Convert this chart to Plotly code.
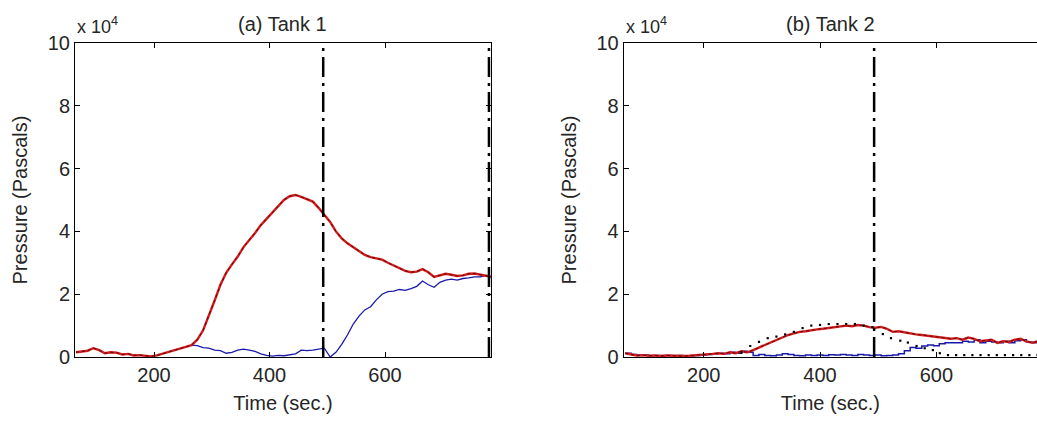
import plotly.graph_objects as go

# ---------------- data (pressure in units of 1e4 Pa) ----------------
time_s = [65, 75, 85, 95, 105, 115, 125, 135, 145, 155, 165, 175, 185, 195, 205, 215, 225, 235,
          245, 255, 265, 275, 285, 295, 305, 315, 325, 335, 345, 355, 365, 375, 385, 395, 405,
          415, 425, 435, 445, 455, 465, 475, 485, 495, 505, 515, 525, 535, 545, 555, 565, 575,
          585, 595, 605, 615, 625, 635, 645, 655, 665, 675, 685, 695, 705, 715, 725, 735, 745,
          755, 765, 775, 785]

tank1_red = [0.15, 0.18, 0.20, 0.28, 0.22, 0.12, 0.15, 0.14, 0.08, 0.10, 0.05, 0.06, 0.03, 0.02,
             0.05, 0.10, 0.15, 0.20, 0.26, 0.32, 0.38, 0.55, 0.85, 1.30, 1.80, 2.30, 2.68, 2.95,
             3.20, 3.50, 3.72, 3.95, 4.20, 4.40, 4.60, 4.80, 5.00, 5.12, 5.16, 5.10, 5.02, 4.95,
             4.75, 4.52, 4.30, 4.00, 3.78, 3.62, 3.50, 3.38, 3.25, 3.18, 3.15, 3.10, 3.00, 2.92,
             2.83, 2.74, 2.70, 2.72, 2.80, 2.70, 2.55, 2.60, 2.65, 2.62, 2.58, 2.60, 2.65, 2.66,
             2.62, 2.60, 2.55]

tank1_blue = [0.15, 0.18, 0.20, 0.28, 0.22, 0.12, 0.15, 0.14, 0.08, 0.10, 0.05, 0.06, 0.03, 0.02,
              0.05, 0.10, 0.15, 0.20, 0.26, 0.32, 0.38, 0.36, 0.30, 0.28, 0.22, 0.20, 0.12, 0.15,
              0.22, 0.25, 0.22, 0.18, 0.10, 0.05, 0.03, 0.05, 0.04, 0.06, 0.10, 0.22, 0.20, 0.22,
              0.25, 0.28, 0.00, 0.15, 0.40, 0.70, 1.05, 1.30, 1.50, 1.60, 1.82, 2.00, 2.08, 2.10,
              2.15, 2.12, 2.18, 2.25, 2.42, 2.30, 2.22, 2.38, 2.45, 2.48, 2.45, 2.50, 2.52, 2.55,
              2.55, 2.60, 2.55]

tank2_red = [0.12, 0.08, 0.05, 0.06, 0.04, 0.05, 0.03, 0.05, 0.04, 0.05, 0.03, 0.04, 0.05, 0.06,
             0.08, 0.10, 0.12, 0.10, 0.15, 0.12, 0.18, 0.15, 0.22, 0.30, 0.38, 0.45, 0.55, 0.62,
             0.70, 0.75, 0.80, 0.82, 0.86, 0.88, 0.90, 0.93, 0.95, 0.97, 1.00, 0.98, 1.02, 1.00,
             0.95, 0.93, 0.96, 0.90, 0.80, 0.82, 0.78, 0.75, 0.72, 0.70, 0.68, 0.65, 0.62, 0.60,
             0.58, 0.60, 0.55, 0.62, 0.58, 0.50, 0.52, 0.55, 0.45, 0.50, 0.48, 0.55, 0.58, 0.50,
             0.45, 0.50, 0.48]

tank2_blue = [0.12, 0.08, 0.05, 0.06, 0.04, 0.05, 0.03, 0.05, 0.04, 0.05, 0.03, 0.04, 0.05, 0.06,
              0.08, 0.10, 0.12, 0.10, 0.15, 0.12, 0.18, 0.15, 0.05, 0.08, 0.05, 0.04, 0.06, 0.10,
              0.08, 0.05, 0.04, 0.06, 0.05, 0.06, 0.05, 0.07, 0.06, 0.08, 0.06, 0.05, 0.08, 0.06,
              0.05, 0.06, 0.04, 0.05, 0.06, 0.10, 0.20, 0.30, 0.28, 0.35, 0.38, 0.36, 0.42, 0.45,
              0.45, 0.45, 0.50, 0.48, 0.55, 0.45, 0.50, 0.48, 0.45, 0.50, 0.45, 0.52, 0.55, 0.48,
              0.45, 0.48, 0.45]

tank2_dots_t = [265, 280, 295, 310, 325, 340, 355, 370, 385, 400, 415, 430, 445, 460, 475, 490,
                508, 522, 538, 551, 566, 580, 594, 606, 620, 634, 648, 662, 676, 690, 704, 718,
                732, 746, 760, 774]
tank2_dots = [0.15, 0.35, 0.48, 0.60, 0.65, 0.72, 0.80, 0.92, 1.00, 1.02, 1.05, 1.05, 1.05, 1.05,
              1.00, 0.95, 0.73, 0.60, 0.52, 0.46, 0.35, 0.28, 0.22, 0.12, 0.06, 0.06, 0.06, 0.06,
              0.06, 0.06, 0.06, 0.06, 0.06, 0.06, 0.06, 0.06]

event_times = [493, 780]
y_ticks = [0, 2, 4, 6, 8, 10]
x_ticks = [200, 400, 600]
panel_titles = ["(a) Tank 1", "(b) Tank 2"]

SCALE = 1e4
def pa(vals):
    return [v * SCALE for v in vals]

FONT = "Liberation Sans, Arial, sans-serif"
TXT = "#262626"
RED = "#d41c1c"
BLUE = "#1a1aa8"

fig = go.Figure()

# Panel (a)
fig.add_trace(go.Scatter(x=time_s, y=pa(tank1_blue), mode="lines", line=dict(color=BLUE, width=1.3),
                         xaxis="x", yaxis="y", showlegend=False))
fig.add_trace(go.Scatter(x=time_s, y=pa(tank1_red), mode="lines", line=dict(color=RED, width=2.4),
                         xaxis="x", yaxis="y", showlegend=False))
fig.add_trace(go.Scatter(x=time_s, y=pa(tank1_red), mode="lines", line=dict(color="#3a0000", width=0.8, dash="dot"),
                         xaxis="x", yaxis="y", showlegend=False))

# Panel (b)
fig.add_trace(go.Scatter(x=time_s, y=pa(tank2_blue), mode="lines", line=dict(color=BLUE, width=1.5, shape="hv"),
                         xaxis="x2", yaxis="y2", showlegend=False))
fig.add_trace(go.Scatter(x=time_s, y=pa(tank2_red), mode="lines", line=dict(color=RED, width=2.4),
                         xaxis="x2", yaxis="y2", showlegend=False))
fig.add_trace(go.Scatter(x=time_s, y=pa(tank2_red), mode="lines", line=dict(color="#3a0000", width=0.8, dash="dot"),
                         xaxis="x2", yaxis="y2", showlegend=False))
fig.add_trace(go.Scatter(x=tank2_dots_t, y=pa(tank2_dots), mode="markers",
                         marker=dict(color="black", size=2.2, symbol="square", line=dict(width=0)),
                         xaxis="x2", yaxis="y2", showlegend=False))

dash_style = "20px,6px,3px,6px"
for t in event_times:
    fig.add_shape(type="line", xref="x", yref="y domain", x0=t, x1=t, y0=0, y1=1,
                  line=dict(color="black", width=2.5, dash=dash_style))
fig.add_shape(type="line", xref="x2", yref="y2 domain", x0=event_times[0], x1=event_times[0], y0=0, y1=1,
              line=dict(color="black", width=2.5, dash=dash_style))

axis_common = dict(showline=True, linecolor="black", linewidth=1, ticks="inside", ticklen=5,
                   tickcolor="black", showgrid=False, zeroline=False,
                   tickfont=dict(family=FONT, size=20, color=TXT))

yt_vals = [v * SCALE for v in y_ticks]
yt_text = [str(v) for v in y_ticks]

fig.update_layout(
    width=1037, height=422,
    margin=dict(l=75, r=0, t=43, b=65),
    paper_bgcolor="white", plot_bgcolor="white",
    font=dict(family=FONT, size=20, color=TXT),
    xaxis=dict(domain=[0, 0.4324], range=[63.2, 783.5], tickvals=x_ticks, mirror="ticks",
               title=dict(text="Time (sec.)", font=dict(family=FONT, size=20, color=TXT), standoff=10),
               **axis_common),
    yaxis=dict(domain=[0, 1], range=[0, 10 * SCALE], tickvals=yt_vals, ticktext=yt_text, mirror="ticks",
               title=dict(text="Pressure (Pascals)", font=dict(family=FONT, size=20, color=TXT), standoff=14),
               **axis_common),
    xaxis2=dict(domain=[0.5704, 1.0], range=[62.4, 773.1], tickvals=x_ticks, mirror="ticks", anchor="y2",
                title=dict(text="Time (sec.)", font=dict(family=FONT, size=20, color=TXT), standoff=10),
                **axis_common),
    yaxis2=dict(domain=[0, 1], range=[0, 10 * SCALE], tickvals=yt_vals, ticktext=yt_text, mirror=False,
                anchor="x2",
                title=dict(text="Pressure (Pascals)", font=dict(family=FONT, size=20, color=TXT), standoff=14),
                **axis_common),
)

# panel titles and exponent labels
fig.add_annotation(text=panel_titles[0], xref="x domain", yref="paper", x=0.5, y=1.0, yshift=6,
                   xanchor="center", yanchor="bottom", showarrow=False,
                   font=dict(family=FONT, size=20, color=TXT))
fig.add_annotation(text=panel_titles[1], xref="x2 domain", yref="paper", x=0.5, y=1.0, yshift=6,
                   xanchor="center", yanchor="bottom", showarrow=False,
                   font=dict(family=FONT, size=20, color=TXT))
for ax in ["x domain", "x2 domain"]:
    fig.add_annotation(text="x 10<sup>4</sup>", xref=ax, yref="paper", x=0, y=1.0, xshift=0, yshift=4,
                       xanchor="left", yanchor="bottom", showarrow=False,
                       font=dict(family=FONT, size=18, color=TXT))

fig.write_html("out.html")
